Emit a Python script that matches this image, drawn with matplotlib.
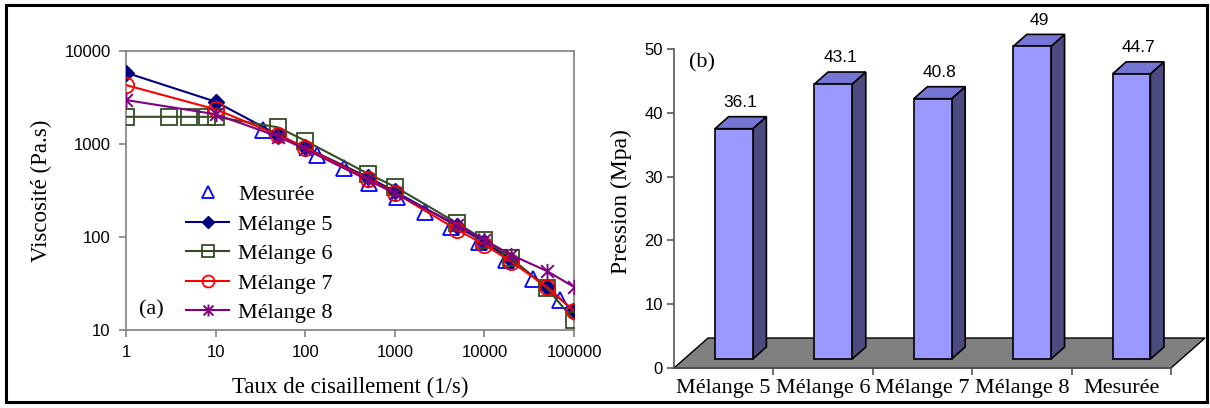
import numpy as np
import matplotlib
matplotlib.use("Agg")
import matplotlib.pyplot as plt
from matplotlib.patches import Polygon, Rectangle
from matplotlib.path import Path

# (a) viscosity vs shear rate
shear_mes = [34, 135, 270, 520, 1050, 2200, 4200, 8700, 17500, 35000, 70000]
visc_mes = [1400, 760, 550, 380, 270, 186, 128, 89, 56, 35, 21]

shear_mix = [1, 10, 50, 100, 500, 1000, 5000, 10000, 20000, 50000, 100000]
visc_m5 = [5850, 2850, 1250, 920, 440, 310, 130, 88, 57, 29, 16]
visc_m7 = [4300, 2360, 1250, 912, 425, 299, 119, 83, 54, 29, 16]
visc_m8 = [2970, 2090, 1200, 880, 410, 295, 135, 93, 64, 43, 29]

shear_m6 = [1, 3, 5, 8, 10, 50, 100, 500, 1000, 5000, 10000, 20000, 50000, 100000]
visc_m6 = [1960, 1960, 1960, 1960, 1960, 1510, 1085, 480, 348, 140, 93, 59, 28, 12.8]

# (b) pressure
categories = ["Mélange 5", "Mélange 6", "Mélange 7", "Mélange 8", "Mesurée"]
pression = [36.1, 43.1, 40.8, 49, 44.7]

SERIF = "Liberation Serif"
SANS = "Liberation Sans"

fig = plt.figure(figsize=(12.1, 4.08), dpi=100)

# outer frame
fig.patches.append(Rectangle((6 / 1210, 1 - 402 / 408), 1201 / 1210, 397 / 408,
                             transform=fig.transFigure, fill=False,
                             edgecolor="black", linewidth=2.2, zorder=10))

# ---------- panel (a) ----------
ax1 = fig.add_axes([126 / 1210, 1 - 330 / 408, 448 / 1210, 279 / 408])
ax1.set_xscale("log")
ax1.set_yscale("log")

asterisk = Path([(-1, -1), (1, 1), (-1, 1), (1, -1), (0, -1.2), (0, 1.2)],
                [Path.MOVETO, Path.LINETO, Path.MOVETO, Path.LINETO,
                 Path.MOVETO, Path.LINETO])
green = "#344d26"

ax1.plot(shear_mes, visc_mes, ls="none", marker="^", ms=11, mfc="none",
         mec="#0000ff", mew=1.3, label="Mesurée", zorder=3)
ax1.plot(shear_mix, visc_m5, color="#000080", lw=1.5, marker="D", ms=8,
         mfc="#000080", mec="#000080", label="Mélange 5", zorder=4)
ax1.plot(shear_m6, visc_m6, color=green, lw=1.5, marker="s", ms=11,
         mfc="none", mec=green, mew=1.3, label="Mélange 6", zorder=4)
ax1.plot(shear_mix, visc_m7, color="#ff0000", lw=1.5, marker="o", ms=11,
         mfc="none", mec="#ff0000", mew=1.3, label="Mélange 7", zorder=5)
ax1.plot(shear_mix, visc_m8, color="#800080", lw=1.5, marker=asterisk, ms=11,
         mec="#800080", mew=1.4, label="Mélange 8", zorder=5)

ax1.set_xlim(1, 100000)
ax1.set_ylim(10, 10000)
ax1.set_xticks([1, 10, 100, 1000, 10000, 100000],
               ["1", "10", "100", "1000", "10000", "100000"])
ax1.set_yticks([10, 100, 1000, 10000], ["10", "100", "1000", "10000"])
ax1.minorticks_off()
for s in ax1.spines.values():
    s.set_color("#808080")
    s.set_linewidth(1.2)
ax1.tick_params(direction="out", length=5, width=1.2, color="#808080",
                labelsize=12, pad=6)
for lab in ax1.get_xticklabels() + ax1.get_yticklabels():
    lab.set_fontfamily(SANS)
ax1.set_xlabel("Taux de cisaillement (1/s)", fontfamily=SERIF, fontsize=16.5,
               labelpad=12)
ax1.set_ylabel("Viscosité (Pa.s)", fontfamily=SERIF, fontsize=16.5, labelpad=9)

leg = ax1.legend(loc="upper left", bbox_to_anchor=(0.134, 0.521), frameon=False,
                 prop={"family": SERIF, "size": 16}, handlelength=1.95,
                 handletextpad=0.4, labelspacing=0.4, borderpad=0,
                 borderaxespad=0, markerscale=0.78)
ax1.text(0.029, 0.072, "(a)", transform=ax1.transAxes, fontfamily=SERIF,
         fontsize=16, va="center", ha="left")

# ---------- panel (b) ----------
ax2 = fig.add_axes([674 / 1210, 1 - 368 / 408, 497 / 1210, 319 / 408])
ax2.set_xlim(0, 5)
ax2.set_ylim(0, 50)

ddx, ddy = 0.342, 4.70          # floor depth in data units
bw = 0.38
d0, d1 = 0.3, 0.7               # bar depth range

ax2.add_patch(Polygon([(0, 0), (5, 0), (5 + ddx, ddy), (ddx, ddy)],
                      closed=True, facecolor="#808080", edgecolor="black",
                      linewidth=1.0, clip_on=False, zorder=1))

for i, v in enumerate(pression):
    x0 = i + 0.5 - bw / 2 + d0 * ddx
    y0 = d0 * ddy
    ox, oy = (d1 - d0) * ddx, (d1 - d0) * ddy
    front = [(x0, y0), (x0 + bw, y0), (x0 + bw, y0 + v), (x0, y0 + v)]
    side = [(x0 + bw, y0), (x0 + bw + ox, y0 + oy),
            (x0 + bw + ox, y0 + v + oy), (x0 + bw, y0 + v)]
    top = [(x0, y0 + v), (x0 + bw, y0 + v), (x0 + bw + ox, y0 + v + oy),
           (x0 + ox, y0 + v + oy)]
    ax2.add_patch(Polygon(side, closed=True, facecolor="#4b4b80",
                          edgecolor="black", linewidth=1.2, clip_on=False, zorder=2))
    ax2.add_patch(Polygon(top, closed=True, facecolor="#7575d4",
                          edgecolor="black", linewidth=1.2, clip_on=False, zorder=2))
    ax2.add_patch(Polygon(front, closed=True, facecolor="#9999ff",
                          edgecolor="black", linewidth=1.2, clip_on=False, zorder=3))
    ax2.text(i + 0.5 + 0.5 * ddx, y0 + v + oy + 2.2, f"{v:g}",
             ha="center", va="center", fontfamily=SANS, fontsize=12.5,
             clip_on=False)

ax2.spines["top"].set_visible(False)
ax2.spines["right"].set_visible(False)
for s in ("left", "bottom"):
    ax2.spines[s].set_color("#555555")
    ax2.spines[s].set_linewidth(1.2)
ax2.set_yticks([0, 10, 20, 30, 40, 50])
ax2.tick_params(axis="y", direction="out", length=5, width=1.2,
                color="#555555", labelsize=12, pad=3)
for lab in ax2.get_yticklabels():
    lab.set_fontfamily(SANS)
ax2.set_xticks([0.5, 1.5, 2.5, 3.5, 4.5], categories)
ax2.set_xticks([1, 2, 3, 4, 5], minor=True)
ax2.tick_params(axis="x", which="major", length=0, labelsize=16, pad=8)
ax2.tick_params(axis="x", which="minor", direction="out", length=5,
                width=1.2, color="#555555")
for lab in ax2.get_xticklabels():
    lab.set_fontfamily(SERIF)
ax2.set_ylabel("Pression (Mpa)", fontfamily=SERIF, fontsize=17)
ax2.yaxis.set_label_coords(-0.085, 0.523)
ax2.text(0.15, 47.8, "(b)", fontfamily=SERIF, fontsize=16, va="center",
         ha="left")

fig.savefig("out.png", dpi=100)
